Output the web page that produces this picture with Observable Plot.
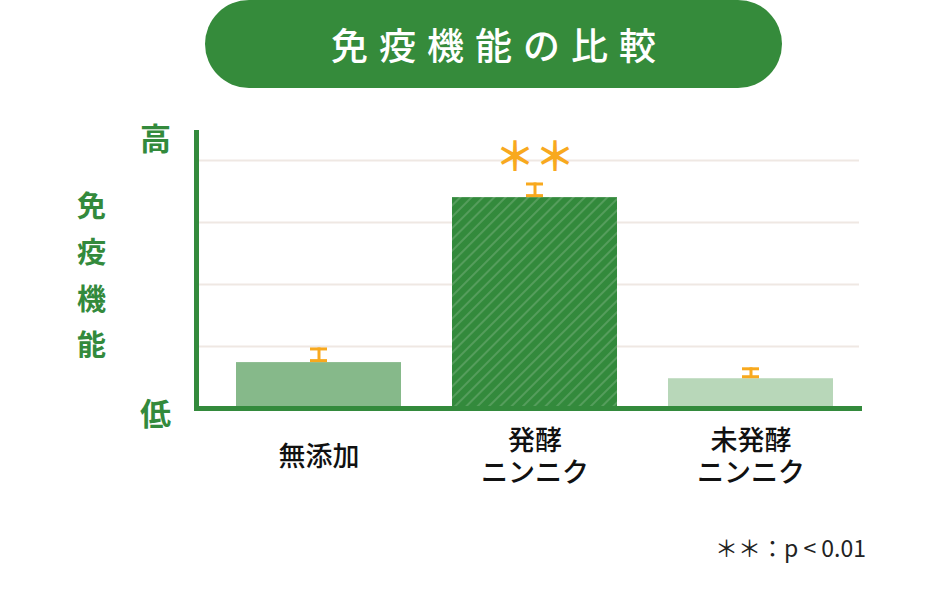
<!DOCTYPE html>
<html><head><meta charset="utf-8">
<script src="https://cdn.jsdelivr.net/npm/d3@7"></script>
<script src="https://cdn.jsdelivr.net/npm/@observablehq/plot@0.6"></script>
<style>
body{margin:0;background:#fff;font-family:"Noto Sans CJK JP","Noto Sans",sans-serif;}
#wrap{position:relative;width:950px;height:604px;overflow:hidden;}
#title{position:absolute;left:205px;top:0;width:577px;height:88px;border-radius:44px;background:#358b3b;color:#fff;font-size:37px;font-weight:500;letter-spacing:11px;padding-left:11px;box-sizing:border-box;display:flex;align-items:center;justify-content:center;}
#chart{position:absolute;left:0;top:0;}
#note{position:absolute;right:84px;top:535px;font-size:23px;line-height:25px;color:#222;}
</style></head>
<body>
<div id="wrap">
<div id="chart"></div>
<div id="title">免疫機能の比較</div>
<div id="note">＊＊：p &lt; 0.01</div>
</div>
<script>
const categories = ["無添加", "発酵\nニンニク", "未発酵\nニンニク"];
const values = [0.74, 3.40, 0.48];
const errors = [0.22, 0.22, 0.16];
const barColors = ["#86b98a", "url(#hatch)", "#b8d7b9"];
const significance = ["", "＊＊", ""];
const gridValues = [1, 2, 3, 4];
const yTickLabels = [{v: 4.32, label: "高"}, {v: -0.11, label: "低"}];
const yTitle = "免\n疫\n機\n能";

const green = "#338a3c";
const orange = "#f8a91e";

const data = categories.map((c, i) => ({cat: c, value: values[i], err: errors[i], fill: barColors[i], sig: significance[i]}));

const plot = Plot.plot({
  width: 950, height: 604,
  marginTop: 132, marginBottom: 196, marginLeft: 196, marginRight: 91,
  x: {domain: categories, range: [236, 833], paddingInner: 0.238, paddingOuter: 0, axis: null},
  y: {domain: [0, 4.45], axis: null},
  color: {type: "identity"},
  style: {fontFamily: '"Noto Sans CJK JP", sans-serif', overflow: "visible", background: "transparent"},
  marks: [
    Plot.ruleY(gridValues, {stroke: "#efe8e3", strokeWidth: 2}),
    Plot.barY(data, {x: "cat", y: "value", fill: "fill"}),
    Plot.ruleX(data, {x: "cat", y1: "value", y2: d => d.value + d.err, stroke: orange, strokeWidth: 3, dy: -1}),
    Plot.tickY(data, {x: "cat", y: d => d.value + d.err, stroke: orange, strokeWidth: 3, inset: 74}),
    Plot.tickY(data, {x: "cat", y: "value", stroke: orange, strokeWidth: 3, inset: 74, dy: -2}),
    Plot.text(data, {x: "cat", y: d => d.value + d.err, text: "sig", dy: -26, fill: orange, fontSize: 40, fontWeight: "bold"}),
    Plot.frame({anchor: "left", stroke: green, strokeWidth: 5}),
    Plot.frame({anchor: "bottom", stroke: green, strokeWidth: 5}),
    Plot.text(yTickLabels, {y: "v", text: "label", frameAnchor: "left", textAnchor: "middle", dx: -41, fill: green, fontSize: 31, fontWeight: "bold"}),
    Plot.text([yTitle], {text: d => d, frameAnchor: "left", textAnchor: "middle", dx: -105, dy: 1, fill: green, fontSize: 29, fontWeight: "bold", lineHeight: 1.6}),
    Plot.text(data, {x: "cat", text: "cat", frameAnchor: "bottom", dy: 47, lineAnchor: "middle", fill: "#111", fontSize: 27, fontWeight: 500, lineHeight: 1.19})
  ]
});

d3.select(plot).insert("defs", ":first-child").html(
  `<pattern id="hatch" patternUnits="userSpaceOnUse" width="8" height="8" patternTransform="rotate(45)">
     <rect width="8" height="8" fill="${green}"/>
     <line x1="1" y1="0" x2="1" y2="8" stroke="rgba(255,255,255,0.22)" stroke-width="1.5"/>
   </pattern>`
);

document.getElementById("chart").appendChild(plot);
</script>
</body></html>
